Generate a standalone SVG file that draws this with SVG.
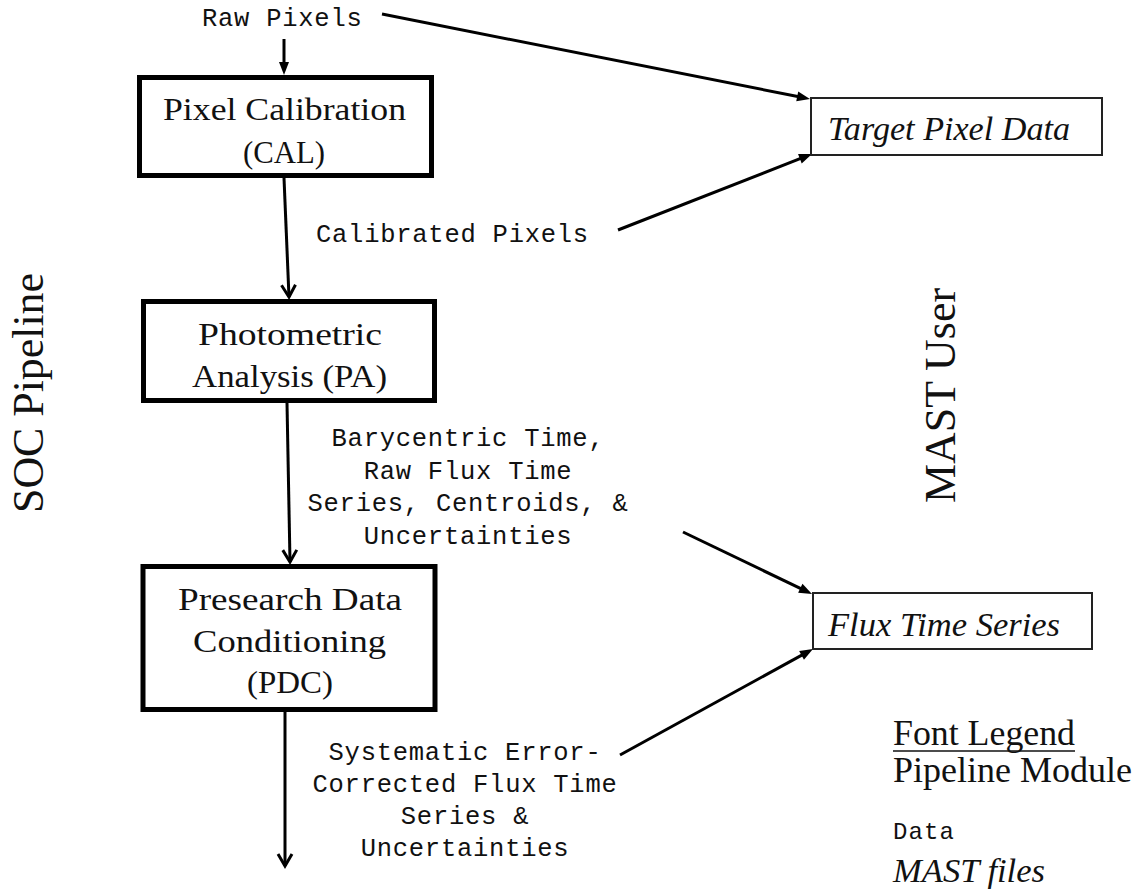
<svg xmlns="http://www.w3.org/2000/svg" width="1143" height="893" viewBox="0 0 1143 893">
  <style>
    .module { fill: #fff; stroke: #000; stroke-width: 5; }
    .mast { fill: #fff; stroke: #222; stroke-width: 2; }
    .serif { font-family: "Liberation Serif", "Times New Roman", serif; fill: #111; }
    .modtext { font-size: 32px; text-anchor: middle; }
    .italic { font-family: "Liberation Serif", "Times New Roman", serif; font-style: italic; font-size: 34px; fill: #111; }
    .mono { font-family: "Liberation Mono", "Courier New", monospace; font-size: 25.5px; letter-spacing: 0.75px; fill: #111; }
    .mid { text-anchor: middle; }
    .side { font-family: "Liberation Serif", "Times New Roman", serif; font-size: 44px; text-anchor: middle; fill: #111; }
    .conn { fill: none; stroke: #000; stroke-width: 3; }
  </style>
  <defs>
    <marker id="chev" markerUnits="userSpaceOnUse" markerWidth="18" markerHeight="18" refX="13" refY="8" orient="auto" overflow="visible">
      <path d="M1,1 L13,8 L1,15" fill="none" stroke="#000" stroke-width="3"/>
    </marker>
    <marker id="tri" markerUnits="userSpaceOnUse" markerWidth="14" markerHeight="12" refX="7" refY="5" orient="auto" overflow="visible">
      <path d="M0,0 L13,5 L0,10 z" fill="#000"/>
    </marker>
  </defs>
  <rect width="1143" height="893" fill="#fff"/>

  <g id="connectors">
    <line class="conn" x1="284" y1="39" x2="284" y2="69" marker-end="url(#tri)"/>
    <line class="conn" x1="284" y1="178" x2="289" y2="297" marker-end="url(#chev)"/>
    <line class="conn" x1="287" y1="403" x2="290" y2="562" marker-end="url(#chev)"/>
    <line class="conn" x1="285" y1="712" x2="285" y2="866" marker-end="url(#chev)"/>
    <line class="conn" x1="382" y1="14" x2="804.1" y2="97.8" marker-end="url(#tri)"/>
    <line class="conn" x1="618" y1="230" x2="806.4" y2="156.2" marker-end="url(#tri)"/>
    <line class="conn" x1="683" y1="532" x2="806.6" y2="591.4" marker-end="url(#tri)"/>
    <line class="conn" x1="620" y1="755" x2="807.7" y2="651.9" marker-end="url(#tri)"/>
  </g>

  <g id="labels">
    <text class="mono" x="202" y="26">Raw Pixels</text>
    <text class="mono" x="316" y="242">Calibrated Pixels</text>
    <text class="mono mid" x="468" y="446">Barycentric Time,</text>
    <text class="mono mid" x="468" y="478.5">Raw Flux Time</text>
    <text class="mono mid" x="468" y="511">Series, Centroids, &amp;</text>
    <text class="mono mid" x="468" y="543.5">Uncertainties</text>
    <text class="mono mid" x="465" y="760">Systematic Error-</text>
    <text class="mono mid" x="465" y="792">Corrected Flux Time</text>
    <text class="mono mid" x="465" y="824">Series &amp;</text>
    <text class="mono mid" x="465" y="856">Uncertainties</text>
  </g>

  <g id="node-cal">
    <rect class="module" x="139.5" y="77.5" width="292" height="98"/>
    <text class="serif modtext" x="284.5" y="120" textLength="243" lengthAdjust="spacingAndGlyphs">Pixel Calibration</text>
    <text class="serif modtext" x="284" y="163" textLength="82" lengthAdjust="spacingAndGlyphs">(CAL)</text>
  </g>

  <g id="node-pa">
    <rect class="module" x="143.5" y="301.5" width="291" height="99"/>
    <text class="serif modtext" x="290" y="345" textLength="184" lengthAdjust="spacingAndGlyphs">Photometric</text>
    <text class="serif modtext" x="289.5" y="387" textLength="195" lengthAdjust="spacingAndGlyphs">Analysis (PA)</text>
  </g>

  <g id="node-pdc">
    <rect class="module" x="143" y="566.5" width="292" height="143"/>
    <text class="serif modtext" x="290" y="610" textLength="224" lengthAdjust="spacingAndGlyphs">Presearch Data</text>
    <text class="serif modtext" x="289.5" y="652" textLength="193" lengthAdjust="spacingAndGlyphs">Conditioning</text>
    <text class="serif modtext" x="290" y="693" textLength="86" lengthAdjust="spacingAndGlyphs">(PDC)</text>
  </g>

  <g id="node-target-pixel-data">
    <rect class="mast" x="811" y="98" width="291" height="57"/>
    <text class="italic" x="828" y="140" textLength="242" lengthAdjust="spacingAndGlyphs">Target Pixel Data</text>
  </g>

  <g id="node-flux-time-series">
    <rect class="mast" x="813" y="593" width="279" height="56"/>
    <text class="italic" x="828" y="636" textLength="232" lengthAdjust="spacingAndGlyphs">Flux Time Series</text>
  </g>

  <g id="side-labels">
    <text class="side" transform="translate(43 393) rotate(-90)" textLength="240" lengthAdjust="spacingAndGlyphs">SOC Pipeline</text>
    <text class="side" transform="translate(955 395.5) rotate(-90)" textLength="215" lengthAdjust="spacingAndGlyphs">MAST User</text>
  </g>

  <g id="legend">
    <text class="serif" x="893" y="745" font-size="35" textLength="182" lengthAdjust="spacingAndGlyphs">Font Legend</text>
    <line x1="893" y1="751" x2="1075" y2="751" stroke="#111" stroke-width="1.5"/>
    <text class="serif" x="893" y="782" font-size="35" textLength="239" lengthAdjust="spacingAndGlyphs">Pipeline Module</text>
    <text class="mono" x="893" y="839" style="font-size:24px;letter-spacing:1.1px">Data</text>
    <text class="italic" x="893" y="882" textLength="152" lengthAdjust="spacingAndGlyphs">MAST files</text>
  </g>
</svg>
